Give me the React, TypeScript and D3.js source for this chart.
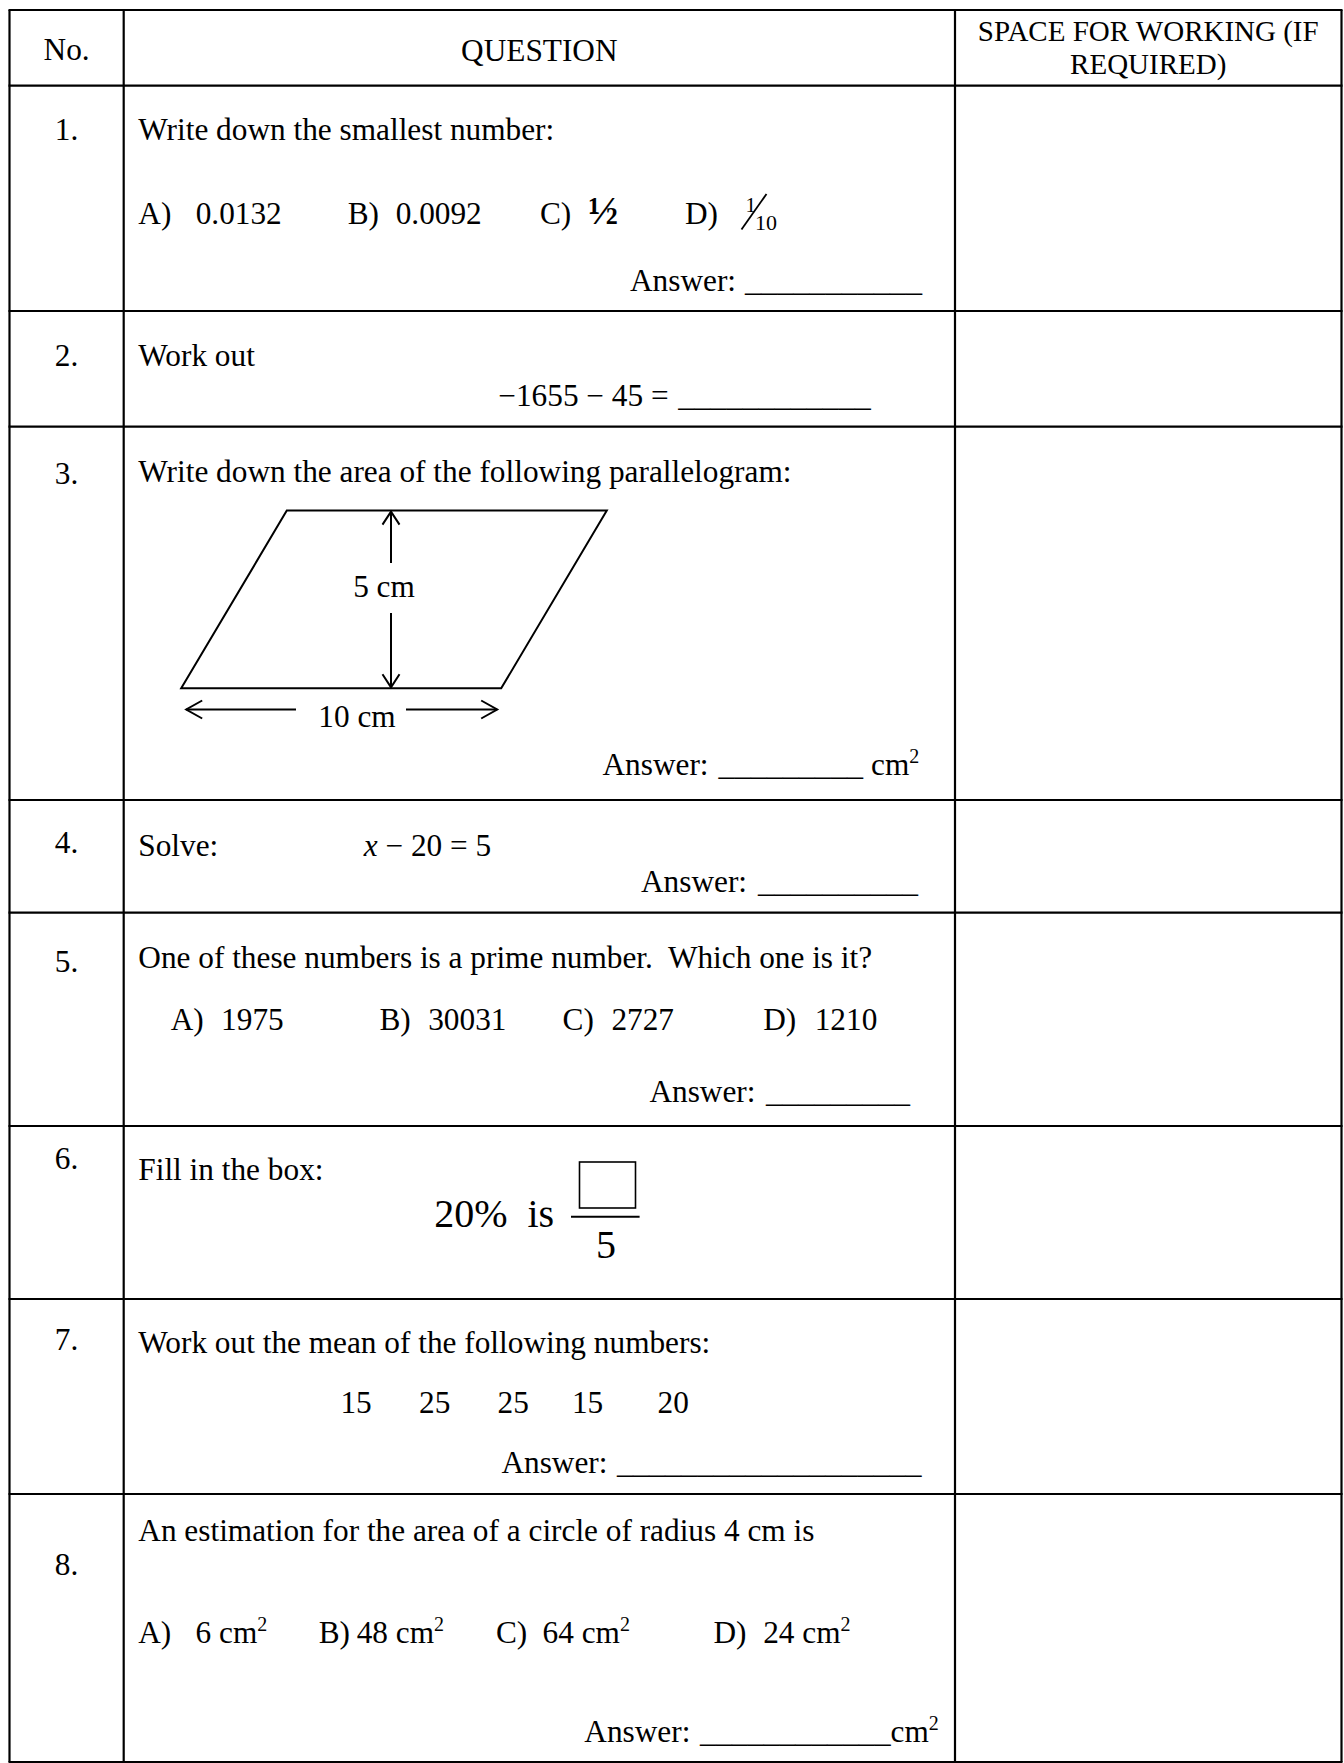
import { useEffect } from 'react';
import * as d3 from 'd3';

// ---- content ----
const headerNo = 'No.';
const headerQuestion = 'QUESTION';
const headerWorking = ['SPACE FOR WORKING (IF', 'REQUIRED)'];
const questionNumbers = ['1.', '2.', '3.', '4.', '5.', '6.', '7.', '8.'];
const prompts = [
  'Write down the smallest number:',
  'Work out',
  'Write down the area of the following parallelogram:',
  'Solve:',
  'One of these numbers is a prime number.  Which one is it?',
  'Fill in the box:',
  'Work out the mean of the following numbers:',
  'An estimation for the area of a circle of radius 4 cm is',
];
const choiceLabels = ['A)', 'B)', 'C)', 'D)'];
const q1Values = ['0.0132', '0.0092', '½'];
const q1Fraction = ['1', '10'];
const q2Expression = '−1655 − 45 =';
const q3Base = 10;
const q3Height = 5;
const q3Slant = 3.3; // top edge offset, in cm of the base scale
const q4Equation = ['x', ' − 20 = 5'];
const q5Values = ['1975', '30031', '2727', '1210'];
const q6Percent = '20%';
const q6Word = 'is';
const q6Denominator = '5';
const q7Numbers = ['15', '25', '25', '15', '20'];
const q8Values = ['6', '48', '64', '24'];
const answerLabel = 'Answer:';
const unit = 'cm';

// ---- layout ----
const W = 1344;
const H = 1763;
const FONT = '"Liberation Serif", "Times New Roman", Times, serif';
const FS = 31.3;
const colEdges = [9.5, 123.7, 955, 1341.5];
const rowEdges = [10, 85.7, 311, 426.7, 800, 912.7, 1126, 1299, 1494, 1762];
const numBaselines = [140, 366, 484, 853, 972, 1169, 1350, 1575];
const promptBaselines = [140, 366, 482, 856, 968, 1180, 1353, 1541];
const textX = 138.3;

const blanks = [
  { x: 630, y: 291, x0: 745, x1: 922, unit: false },
  { x: 602.5, y: 775, x0: 718.6, x1: 863, unit: true, gap: 8 },
  { x: 641, y: 892, x0: 758, x1: 918, unit: false },
  { x: 649.4, y: 1102, x0: 766, x1: 910, unit: false },
  { x: 501.4, y: 1473, x0: 617, x1: 921.5, unit: false },
  { x: 584.3, y: 1742, x0: 700, x1: 890.6, unit: true, gap: 0 },
];

function Blank({ b }: { b: any }) {
  const w = b.x1 - b.x0;
  const n = Math.max(1, Math.round(w / (FS * 0.5)));
  return (
    <g>
      <text x={b.x} y={b.y}>{answerLabel}</text>
      <text x={b.x0} y={b.y} textLength={w} lengthAdjust="spacingAndGlyphs">{'_'.repeat(n)}</text>
      {b.unit && (
        <text x={b.x1 + b.gap} y={b.y}>
          {unit}
          <tspan fontSize={20} dy={-12}>2</tspan>
        </text>
      )}
    </g>
  );
}

export default function App() {
  useEffect(() => {
    document.body.style.margin = '0';
  }, []);

  const line = d3.line<[number, number]>();

  // parallelogram scales (cm -> px)
  const xCm = d3.scaleLinear().domain([0, q3Base]).range([181.2, 501.2]);
  const yCm = d3.scaleLinear().domain([0, q3Height]).range([688.3, 510.6]);
  const para: [number, number][] = [
    [xCm(0), yCm(0)],
    [xCm(q3Slant), yCm(q3Height)],
    [xCm(q3Base + q3Slant), yCm(q3Height)],
    [xCm(q3Base), yCm(0)],
  ];
  const vx = 391;
  const vTop = yCm(q3Height) + 1;
  const vBot = yCm(0) - 1;
  const hy = 709.5;
  const hL = xCm(0) + 5;
  const hR = xCm(q3Base) - 4;
  const vah = 13; // vertical arrowhead length
  const vaw = 8.5;
  const hah = 16; // horizontal arrowhead length
  const haw = 9;

  const q1LabelX = [138.3, 347.7, 540, 685];
  const q1ValueX = [195.7, 395.7, 588.3];
  const q5LabelX = [170.7, 379.4, 562.6, 763.2];
  const q5ValueX = [221.1, 428.2, 611.4, 814.7];
  const q7X = [340.4, 419, 497.6, 571.9, 657.5];
  const q8LabelX = [138.2, 318.7, 496, 713.4];
  const q8ValueX = [195.6, 356.7, 542.6, 763.2];

  return (
    <svg
      width={W}
      height={H}
      viewBox={`0 0 ${W} ${H}`}
      style={{ position: 'absolute', left: 0, top: 0, display: 'block', background: '#fff' }}
      fontFamily={FONT}
      fontSize={FS}
      fill="#000"
    >
      {/* table grid */}
      <g stroke="#000" strokeWidth={2.2}>
        {rowEdges.map((y, i) => (
          <line key={'r' + i} x1={colEdges[0] - 1} x2={colEdges[3] + 1} y1={y} y2={y} />
        ))}
        {colEdges.map((x, i) => (
          <line key={'c' + i} x1={x} x2={x} y1={rowEdges[0]} y2={rowEdges[rowEdges.length - 1]} />
        ))}
      </g>

      {/* header */}
      <text x={(colEdges[0] + colEdges[1]) / 2} y={60} textAnchor="middle">{headerNo}</text>
      <text x={(colEdges[1] + colEdges[2]) / 2} y={61} textAnchor="middle">{headerQuestion}</text>
      {headerWorking.map((t, i) => (
        <text key={t} x={(colEdges[2] + colEdges[3]) / 2} y={41 + i * 33.3} textAnchor="middle" fontSize={29}>
          {t}
        </text>
      ))}

      {/* numbers and prompts */}
      {questionNumbers.map((n, i) => (
        <text key={n} x={(colEdges[0] + colEdges[1]) / 2} y={numBaselines[i]} textAnchor="middle">{n}</text>
      ))}
      {prompts.map((p, i) => (
        <text key={i} x={textX} y={promptBaselines[i]} style={{ whiteSpace: 'pre' }}>{p}</text>
      ))}

      {/* Q1 */}
      {choiceLabels.map((l, i) => (
        <text key={'q1l' + i} x={q1LabelX[i]} y={224}>{l}</text>
      ))}
      {q1Values.map((v, i) => (
        <text
          key={'q1v' + i}
          x={q1ValueX[i]}
          y={224}
          fontWeight={v === '½' ? 700 : 400}
          fontSize={v === '½' ? 40 : FS}
        >
          {v}
        </text>
      ))}
      <g>
        <text x={745.5} y={212} fontSize={21}>{q1Fraction[0]}</text>
        <path d={line([[741.5, 229.5], [766.5, 194]]) || ''} stroke="#000" strokeWidth={1.8} />
        <text x={755} y={229.5} fontSize={22}>{q1Fraction[1]}</text>
      </g>

      {/* Q2 */}
      <text x={498.3} y={406}>{q2Expression}</text>
      <text x={678.3} y={406} textLength={192.4} lengthAdjust="spacingAndGlyphs">{'_'.repeat(12)}</text>

      {/* Q3 parallelogram */}
      <path d={(line(para) || '') + 'Z'} fill="none" stroke="#000" strokeWidth={2} />
      <g fill="none" stroke="#000" strokeWidth={2}>
        <path d={line([[vx, vTop], [vx, 563]]) || ''} />
        <path d={line([[vx - vaw, vTop + vah], [vx, vTop], [vx + vaw, vTop + vah]]) || ''} />
        <path d={line([[vx, 613], [vx, vBot]]) || ''} />
        <path d={line([[vx - vaw, vBot - vah], [vx, vBot], [vx + vaw, vBot - vah]]) || ''} />
        <path d={line([[hL, hy], [296, hy]]) || ''} />
        <path d={line([[hL + hah, hy - haw], [hL, hy], [hL + hah, hy + haw]]) || ''} />
        <path d={line([[406, hy], [hR, hy]]) || ''} />
        <path d={line([[hR - hah, hy - haw], [hR, hy], [hR - hah, hy + haw]]) || ''} />
      </g>
      <text x={384} y={597} textAnchor="middle">{`${q3Height} ${unit}`}</text>
      <text x={357} y={727} textAnchor="middle">{`${q3Base} ${unit}`}</text>

      {/* Q4 */}
      <text x={363.7} y={856}>
        <tspan fontStyle="italic">{q4Equation[0]}</tspan>
        <tspan>{q4Equation[1]}</tspan>
      </text>

      {/* Q5 */}
      {choiceLabels.map((l, i) => (
        <text key={'q5l' + i} x={q5LabelX[i]} y={1030}>{l}</text>
      ))}
      {q5Values.map((v, i) => (
        <text key={'q5v' + i} x={q5ValueX[i]} y={1030}>{v}</text>
      ))}

      {/* Q6 */}
      <text x={434.2} y={1226.7} fontSize={40}>{q6Percent}</text>
      <text x={527.4} y={1226.7} fontSize={40}>{q6Word}</text>
      <rect x={579.5} y={1162} width={56} height={46} fill="none" stroke="#000" strokeWidth={1.6} />
      <path d={line([[571, 1216.7], [639.6, 1216.7]]) || ''} stroke="#000" strokeWidth={2} />
      <text x={606} y={1257.5} fontSize={40} textAnchor="middle">{q6Denominator}</text>

      {/* Q7 */}
      {q7Numbers.map((v, i) => (
        <text key={'q7' + i} x={q7X[i]} y={1413}>{v}</text>
      ))}

      {/* Q8 */}
      {choiceLabels.map((l, i) => (
        <text key={'q8l' + i} x={q8LabelX[i]} y={1643}>{l}</text>
      ))}
      {q8Values.map((v, i) => (
        <text key={'q8v' + i} x={q8ValueX[i]} y={1643}>
          {`${v} ${unit}`}
          <tspan fontSize={20} dy={-12}>2</tspan>
        </text>
      ))}

      {/* answer blanks */}
      {blanks.map((b, i) => (
        <Blank key={'b' + i} b={b} />
      ))}
    </svg>
  );
}
